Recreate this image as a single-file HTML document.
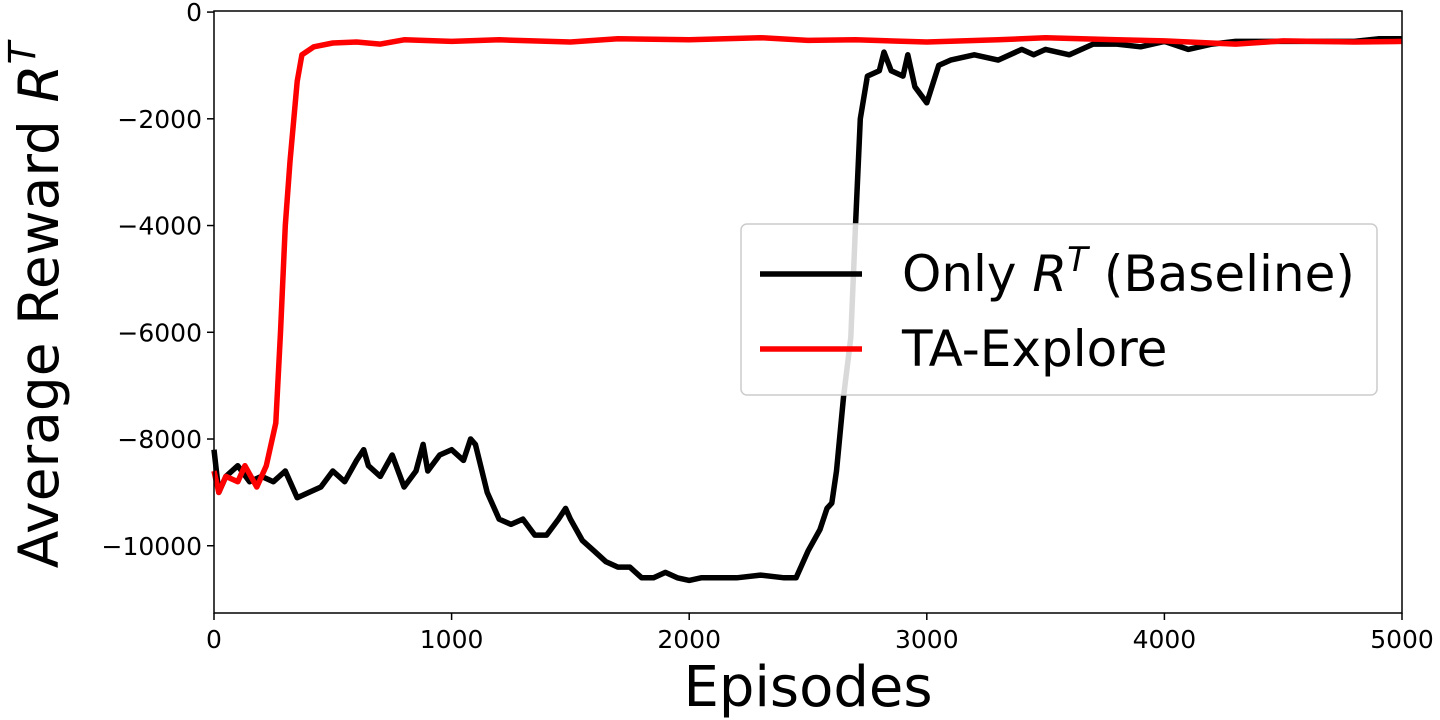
<!DOCTYPE html>
<html><head><meta charset="utf-8"><style>
body{margin:0;background:#fff;}
svg{display:block;font-family:"DejaVu Sans","Liberation Sans",sans-serif;}
</style></head><body>
<svg id="chart" width="1440" height="720"></svg>
<script>
const blackEp=[0,20,50,100,150,200,250,300,350,400,450,500,550,600,630,650,700,750,800,850,880,900,950,1000,1050,1080,1100,1150,1200,1250,1300,1350,1400,1450,1480,1500,1550,1600,1650,1700,1750,1800,1850,1900,1950,2000,2050,2100,2200,2300,2400,2450,2500,2550,2580,2600,2620,2650,2680,2700,2720,2750,2800,2820,2850,2900,2920,2950,3000,3050,3100,3200,3300,3400,3450,3500,3600,3700,3800,3900,4000,4100,4200,4300,4400,4500,4600,4700,4800,4900,5000];
const blackVal=[-8200,-9000,-8700,-8500,-8800,-8700,-8800,-8600,-9100,-9000,-8900,-8600,-8800,-8400,-8200,-8500,-8700,-8300,-8900,-8600,-8100,-8600,-8300,-8200,-8400,-8000,-8100,-9000,-9500,-9600,-9500,-9800,-9800,-9500,-9300,-9500,-9900,-10100,-10300,-10400,-10400,-10600,-10600,-10500,-10600,-10650,-10600,-10600,-10600,-10550,-10600,-10600,-10100,-9700,-9300,-9200,-8600,-7200,-6100,-4000,-2000,-1200,-1100,-750,-1100,-1200,-800,-1400,-1700,-1000,-900,-800,-900,-700,-800,-700,-800,-600,-600,-650,-550,-700,-600,-550,-550,-550,-550,-550,-550,-500,-500];
const redEp=[0,20,50,100,130,180,220,260,280,300,320,350,370,420,500,600,700,800,1000,1200,1500,1700,2000,2300,2500,2700,3000,3300,3500,3800,4000,4300,4500,4800,5000];
const redVal=[-8600,-9000,-8700,-8800,-8500,-8900,-8500,-7700,-6000,-4000,-2800,-1300,-800,-650,-580,-560,-600,-520,-550,-520,-560,-500,-520,-480,-530,-520,-560,-520,-480,-520,-540,-600,-540,-560,-550];
const xTicks=[0,1000,2000,3000,4000,5000];
const yTicks=[0,-2000,-4000,-6000,-8000,-10000];
const X0=214,X1=1402,Y0=11,Y1=613,XMIN=0,XMAX=5000,YMIN=-11260,YMAX=20;
const sx=v=>X0+(v-XMIN)/(XMAX-XMIN)*(X1-X0);
const sy=v=>Y1-(v-YMIN)/(YMAX-YMIN)*(Y1-Y0);
const svg=document.getElementById('chart');
const NS='http://www.w3.org/2000/svg';
function mk(t,a,p){const e=document.createElementNS(NS,t);for(const k in a)e.setAttribute(k,a[k]);(p||svg).appendChild(e);return e;}
function line(ep,val,color,name){
  const p=mk('path',{d:ep.map((e,i)=>(i?'L':'M')+sx(e).toFixed(1)+','+sy(val[i]).toFixed(1)).join(''),fill:'none',stroke:color,'stroke-width':5.5,'stroke-linejoin':'round'});
  
  
}
line(blackEp,blackVal,'#000','baseline-line');
line(redEp,redVal,'#ff0000','ta-explore-line');
const frame=mk('rect',{x:X0,y:Y0,width:X1-X0,height:Y1-Y0,fill:'none',stroke:'#000','stroke-width':1.5});


xTicks.forEach(t=>{
  mk('line',{x1:sx(t),x2:sx(t),y1:Y1,y2:Y1+7,stroke:'#000','stroke-width':1.5});
  const tx=mk('text',{x:sx(t),y:Y1+35,'font-size':25,'text-anchor':'middle'});tx.textContent=t;
  
  
});
yTicks.forEach(t=>{
  mk('line',{x1:X0-7,x2:X0,y1:sy(t),y2:sy(t),stroke:'#000','stroke-width':1.5});
  const tx=mk('text',{x:X0-12,y:sy(t)+9,'font-size':25,'text-anchor':'end'});tx.textContent=(t<0?'\u2212'+(-t):t);
  
  
});
</script>
<div style="position:absolute;left:0;top:0;width:1440px;height:720px;pointer-events:none">
<svg width="1440" height="720" style="font-family:'DejaVu Sans','Liberation Sans',sans-serif">
<text x="808" y="706" font-size="56" text-anchor="middle">Episodes</text>
<text transform="translate(58,305) rotate(-90)" font-size="55" text-anchor="middle">Average Reward <tspan font-style="italic">R</tspan><tspan font-style="italic" font-size="37" dy="-23">T</tspan></text>
<g>
<rect x="741" y="224" width="636" height="171" rx="6" fill="#fff" fill-opacity="0.85" stroke="#ccc" stroke-width="1.5"/>
<line x1="760" y1="274" x2="862" y2="274" stroke="#000" stroke-width="5.5"/>
<text x="902" y="291" font-size="50">Only <tspan font-style="italic">R</tspan><tspan font-style="italic" font-size="34" dy="-20">T</tspan><tspan dy="20"> (Baseline)</tspan></text>
<line x1="760" y1="349" x2="862" y2="349" stroke="#ff0000" stroke-width="5.5"/>
<text x="902" y="366" font-size="50">TA-Explore</text>
</g>
</svg></div>
</body></html>
